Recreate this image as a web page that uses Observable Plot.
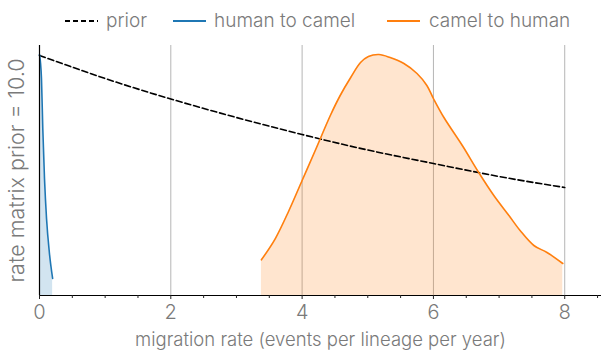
<!DOCTYPE html>
<html>
<head>
<meta charset="utf-8">
<script src="https://cdn.jsdelivr.net/npm/d3@7"></script>
<script src="https://cdn.jsdelivr.net/npm/@observablehq/plot@0.6"></script>
<style>
  body { margin: 0; background: #fff; font-family: Inter, Lato, sans-serif; font-weight: 300; }
  #legend { position: relative; height: 40px; color: #7a7a7a; font-size: 19px; white-space: nowrap; }
  #legend svg { position: absolute; top: 17px; }
  #legend span { position: absolute; top: 9px; line-height: 24px; }
</style>
</head>
<body>
<div id="legend"></div>
<div id="chart"></div>
<script>
// prior (dashed)
const priorX = [0, 1, 2, 3, 4, 5, 6, 7, 8];
const priorY = [240, 217, 196.5, 178, 161, 145.5, 132, 119, 108];
// human to camel
const h2cX = [0, 0.03, 0.05, 0.076, 0.107, 0.15, 0.2];
const h2cY = [241, 217, 167, 117, 77, 43, 17];
// camel to human
const c2hX = [3.38, 3.59, 3.80, 4.00, 4.20, 4.43, 4.58, 4.74, 4.89, 5.01, 5.17, 5.34, 5.55, 5.75, 5.90, 6.00, 6.16, 6.44, 6.69, 6.92, 7.15, 7.32, 7.53, 7.73, 7.97];
const c2hY = [35.7, 56.7, 85, 115, 145, 180, 200, 218, 233, 239, 241, 238, 232, 222, 210, 197, 178, 150, 123, 100, 80, 65, 50, 43, 32];

const xTicks = [0, 2, 4, 6, 8];
const minorTicks = [0.5, 1, 1.5, 2.5, 3, 3.5, 4.5, 5, 5.5, 6.5, 7, 7.5, 8.5];
const seriesNames = ["prior", "human to camel", "camel to human"];
const seriesColors = ["#000000", "#1f77b4", "#ff7f0e"];
const xLabel = "migration rate (events per lineage per year)";
const yLabel = "rate matrix prior = 10.0";

const prior = priorX.map((x, i) => ({x, y: priorY[i]}));
const h2c = h2cX.map((x, i) => ({x, y: h2cY[i]}));
const c2h = c2hX.map((x, i) => ({x, y: c2hY[i]}));

// legend (layout only)
const legendSwatchLeft = [65, 173, 387];
const legendTextLeft = [106, 214, 429];
const legend = document.getElementById("legend");
seriesNames.forEach((name, i) => {
  const dash = i === 0 ? 'stroke-dasharray="5,3"' : "";
  legend.insertAdjacentHTML("beforeend",
    `<svg width="33" height="8" style="left:${legendSwatchLeft[i]}px"><line x1="0" y1="4" x2="33" y2="4" stroke="${seriesColors[i]}" stroke-width="2" ${dash}/></svg><span style="left:${legendTextLeft[i]}px">${name}</span>`);
});

const font = "Inter, Lato, sans-serif";
const chart = Plot.plot({
  width: 607,
  height: 322,
  marginLeft: 39,
  marginRight: 6,
  marginTop: 5,
  marginBottom: 67,
  x: {domain: [0, 8.56]},
  y: {domain: [0, 250], axis: null},
  style: {fontFamily: font, fontWeight: 300, color: "#7a7a7a", background: "#fff", overflow: "visible"},
  marks: [
    Plot.gridX(xTicks.filter(d => d > 0), {stroke: "#b5b5b5", strokeOpacity: 1, strokeWidth: 1}),
    Plot.areaY(h2c, {x: "x", y: "y", fill: seriesColors[1], fillOpacity: 0.2, curve: "monotone-x"}),
    Plot.areaY(c2h, {x: "x", y: "y", fill: seriesColors[2], fillOpacity: 0.2, curve: "catmull-rom"}),
    Plot.line(prior, {x: "x", y: "y", stroke: seriesColors[0], strokeWidth: 1.6, strokeDasharray: "6,3", curve: "natural"}),
    Plot.line(h2c, {x: "x", y: "y", stroke: seriesColors[1], strokeWidth: 1.6, curve: "monotone-x"}),
    Plot.line(c2h, {x: "x", y: "y", stroke: seriesColors[2], strokeWidth: 1.6, curve: "catmull-rom"}),
    Plot.ruleX([0], {stroke: "#000", strokeWidth: 1.2}),
    Plot.ruleY([0], {stroke: "#000", strokeWidth: 1.2}),
    Plot.axisX(minorTicks, {tickSize: 3, tickFormat: () => "", label: null, stroke: "#222"}),
    Plot.axisX(xTicks, {tickSize: 4, tickPadding: 5, fontSize: 20, label: null, stroke: "#222", fill: "#7a7a7a"}),
    Plot.text([xLabel], {frameAnchor: "bottom", dy: 45, lineAnchor: "middle", fontSize: 18.5, fill: "#7a7a7a"}),
    Plot.text([yLabel], {frameAnchor: "left", textAnchor: "middle", dx: -22, rotate: -90, lineAnchor: "middle", fontSize: 21.5, fill: "#7a7a7a"})
  ]
});
document.getElementById("chart").appendChild(chart);
</script>
</body>
</html>
